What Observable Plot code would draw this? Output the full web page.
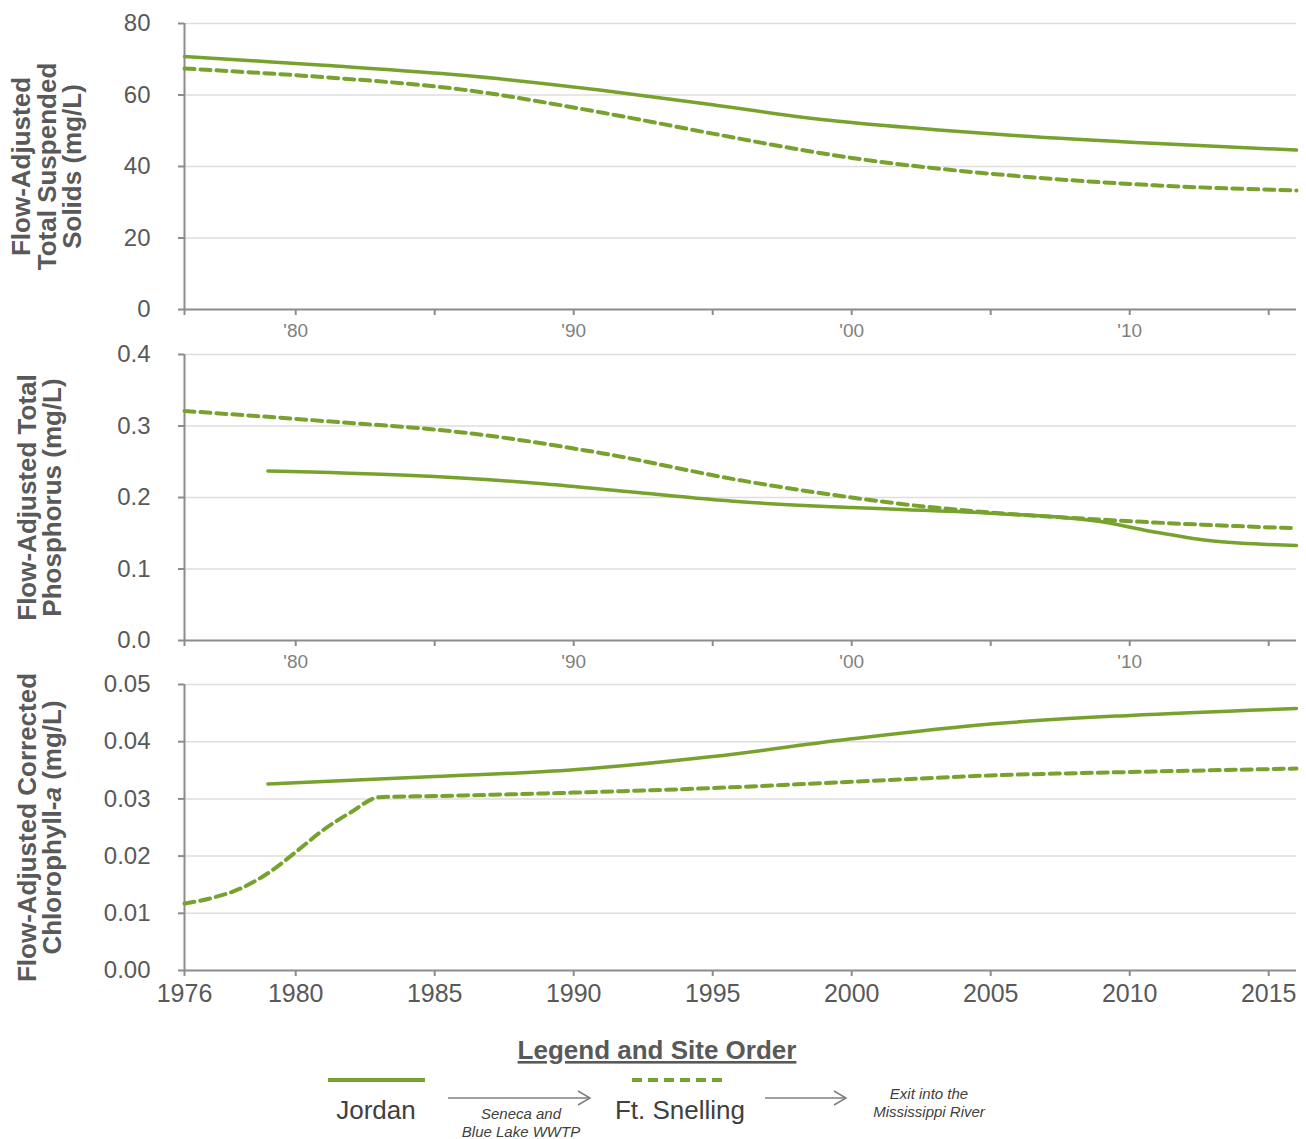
<!DOCTYPE html>
<html>
<head>
<meta charset="utf-8">
<script src="https://cdn.jsdelivr.net/npm/d3@7"></script>
<script src="https://cdn.jsdelivr.net/npm/@observablehq/plot@0.6"></script>
<style>
  html, body { margin: 0; padding: 0; background: #ffffff; }
  #chart { width: 1306px; }
  #chart svg { display: block; }
</style>
</head>
<body>
<div id="chart"></div>
<script>
// ---------- Data ----------
const xTicks = [1976, 1980, 1985, 1990, 1995, 2000, 2005, 2010, 2015];

// Total suspended solids (mg/L)
const tssYears = [1976, 1978, 1981, 1986, 1991, 1995, 1998, 2000, 2003, 2006, 2011, 2016];
const tssJordan = [70.8, 69.8, 68.3, 65.5, 61.3, 57.3, 54.0, 52.3, 50.3, 48.6, 46.4, 44.6];
const tssFtSnelling = [67.4, 66.5, 65.0, 61.5, 55.1, 49.2, 44.9, 42.4, 39.5, 37.3, 34.7, 33.3];
const tssTicks = [0, 20, 40, 60, 80];

// Total phosphorus (mg/L)
const tpYearsJordan = [1979, 1984, 1989, 1992, 1996, 2000, 2002, 2005, 2009, 2011, 2013, 2016];
const tpJordan = [0.237, 0.231, 0.219, 0.208, 0.194, 0.186, 0.183, 0.178, 0.166, 0.151, 0.139, 0.133];
const tpYearsFtSnelling = [1976, 1981, 1986, 1991, 1996, 2000, 2002, 2005, 2009, 2012.6, 2016];
const tpFtSnelling = [0.321, 0.307, 0.291, 0.262, 0.224, 0.200, 0.190, 0.179, 0.169, 0.162, 0.157];
const tpTicks = [0, 0.1, 0.2, 0.3, 0.4];

// Corrected chlorophyll-a (mg/L)
const chlYearsJordan = [1979, 1985, 1990, 1995, 2000, 2005, 2010, 2016];
const chlJordan = [0.0326, 0.0339, 0.0351, 0.0374, 0.0405, 0.0431, 0.0446, 0.0458];
const chlYearsFtSnelling = [1976, 1977, 1978, 1979, 1980, 1981, 1982, 1983, 1985, 1990, 1995, 2000, 2005, 2010, 2016];
const chlFtSnelling = [0.0117, 0.0127, 0.0143, 0.0170, 0.0207, 0.0246, 0.0277, 0.0303, 0.0305, 0.0311, 0.0319, 0.0330, 0.0341, 0.0347, 0.0353];
const chlTicks = [0, 0.01, 0.02, 0.03, 0.04, 0.05];

const siteNames = ["Jordan", "Ft. Snelling"];

// ---------- Styling ----------
const GREEN = "#77a22e";
const AXIS = "#8c8c8c";
const GRID = "#dedede";
const TEXT = "#595959";
const FONT = "'Liberation Sans', Arial, sans-serif";
const DASH = "10,6";

function toRows(years, values) { return years.map((y, i) => ({year: y, value: values[i]})); }

function panel({height, marginTop, marginBottom, yDomain, yTicks, yFormat, yLabel, labelDx, rowsJ, rowsF, xFormat, xFont, xFill}) {
  return Plot.plot({
    width: 1306,
    height,
    marginLeft: 184,
    marginRight: 10,
    marginTop,
    marginBottom,
    style: {fontFamily: FONT, background: "#ffffff", color: TEXT, overflow: "visible"},
    x: {type: "linear", domain: [1976, 2016]},
    y: {domain: yDomain},
    marks: [
      Plot.gridY(yTicks.filter(t => t !== 0), {stroke: GRID, strokeOpacity: 1, strokeWidth: 1.5}),
      Plot.ruleY([0], {stroke: AXIS, strokeWidth: 2}),
      Plot.ruleX([1976], {stroke: AXIS, strokeWidth: 2}),
      Plot.axisY(yTicks, {tickSize: 6, tickPadding: 28, tickFormat: yFormat, fontSize: 24, stroke: AXIS, strokeWidth: 2, fill: TEXT, label: null}),
      Plot.axisX(xTicks, {tickSize: 6, tickPadding: 8, tickFormat: xFormat, fontSize: xFont, stroke: AXIS, strokeWidth: 2, fill: xFill, label: null}),
      Plot.line(rowsF, {x: "year", y: "value", stroke: GREEN, strokeWidth: 4, strokeDasharray: DASH, curve: "monotone-x"}),
      Plot.line(rowsJ, {x: "year", y: "value", stroke: GREEN, strokeWidth: 3.5, curve: "monotone-x"}),
      Plot.text([yLabel], {frameAnchor: "left", dx: labelDx, rotate: -90, text: d => d, fontSize: 26, fontWeight: "bold", lineHeight: 0.98, fill: TEXT, textAnchor: "middle"})
    ]
  });
}

const shortYear = d => (d % 10 === 0 ? "'" + String(d).slice(2) : "");

const p1 = panel({
  height: 340, marginTop: 23, marginBottom: 31,
  yDomain: [0, 80], yTicks: tssTicks, yFormat: d3.format("d"),
  yLabel: "Flow-Adjusted\nTotal Suspended\nSolids (mg/L)", labelDx: -137,
  rowsJ: toRows(tssYears, tssJordan), rowsF: toRows(tssYears, tssFtSnelling),
  xFormat: shortYear, xFont: 19, xFill: "#7f7f7f"
});
const p2 = panel({
  height: 330, marginTop: 14, marginBottom: 30,
  yDomain: [0, 0.4], yTicks: tpTicks, yFormat: d3.format(".1f"),
  yLabel: "Flow-Adjusted Total\nPhosphorus (mg/L)", labelDx: -144,
  rowsJ: toRows(tpYearsJordan, tpJordan), rowsF: toRows(tpYearsFtSnelling, tpFtSnelling),
  xFormat: shortYear, xFont: 19, xFill: "#7f7f7f"
});
const p3 = panel({
  height: 355, marginTop: 14, marginBottom: 55,
  yDomain: [0, 0.05], yTicks: chlTicks, yFormat: d3.format(".2f"),
  yLabel: "Flow-Adjusted Corrected\nChlorophyll-a (mg/L)", labelDx: -144,
  rowsJ: toRows(chlYearsJordan, chlJordan), rowsF: toRows(chlYearsFtSnelling, chlFtSnelling),
  xFormat: d3.format("d"), xFont: 25, xFill: TEXT
});

// italic "a" in Chlorophyll-a
d3.select(p3).selectAll("tspan").each(function() {
  if (this.textContent === "Chlorophyll-a (mg/L)") {
    const t = d3.select(this);
    t.text("Chlorophyll-");
    t.append("tspan").attr("font-style", "italic").text("a");
    t.append("tspan").text(" (mg/L)");
  }
});

const chart = document.getElementById("chart");
chart.append(p1, p2, p3);

// ---------- Legend ----------
const legend = d3.create("svg").attr("width", 1306).attr("height", 114)
  .style("font-family", FONT).style("display", "block");

legend.append("text").attr("x", 657).attr("y", 34).attr("text-anchor", "middle")
  .attr("font-size", 26).attr("font-weight", "bold").attr("fill", TEXT)
  .attr("text-decoration", "underline").text("Legend and Site Order");

const items = [
  {name: siteNames[0], x1: 328, x2: 425, cx: 376, dash: null},
  {name: siteNames[1], x1: 632, x2: 728, cx: 680, dash: DASH}
];
items.forEach(it => {
  legend.append("line").attr("x1", it.x1).attr("x2", it.x2).attr("y1", 55).attr("y2", 55)
    .attr("stroke", GREEN).attr("stroke-width", 4).attr("stroke-dasharray", it.dash);
  legend.append("text").attr("x", it.cx).attr("y", 94).attr("text-anchor", "middle")
    .attr("font-size", 26).attr("fill", "#404040").text(it.name);
});

function arrow(x1, x2, y) {
  legend.append("line").attr("x1", x1).attr("x2", x2).attr("y1", y).attr("y2", y)
    .attr("stroke", "#7f7f7f").attr("stroke-width", 1.5);
  legend.append("path").attr("d", `M${x2 - 12},${y - 7} L${x2},${y} L${x2 - 12},${y + 7}`)
    .attr("fill", "none").attr("stroke", "#7f7f7f").attr("stroke-width", 1.5);
}
arrow(448, 590, 73);
arrow(765, 846, 73);

const notes = [
  {x: 521, lines: ["Seneca and", "Blue Lake WWTP"], y0: 94},
  {x: 929, lines: ["Exit into the", "Mississippi River"], y0: 74}
];
notes.forEach(n => {
  n.lines.forEach((l, i) => {
    legend.append("text").attr("x", n.x).attr("y", n.y0 + i * 18).attr("text-anchor", "middle")
      .attr("font-size", 15).attr("font-style", "italic").attr("fill", "#404040").text(l);
  });
});

chart.append(legend.node());
</script>
</body>
</html>
